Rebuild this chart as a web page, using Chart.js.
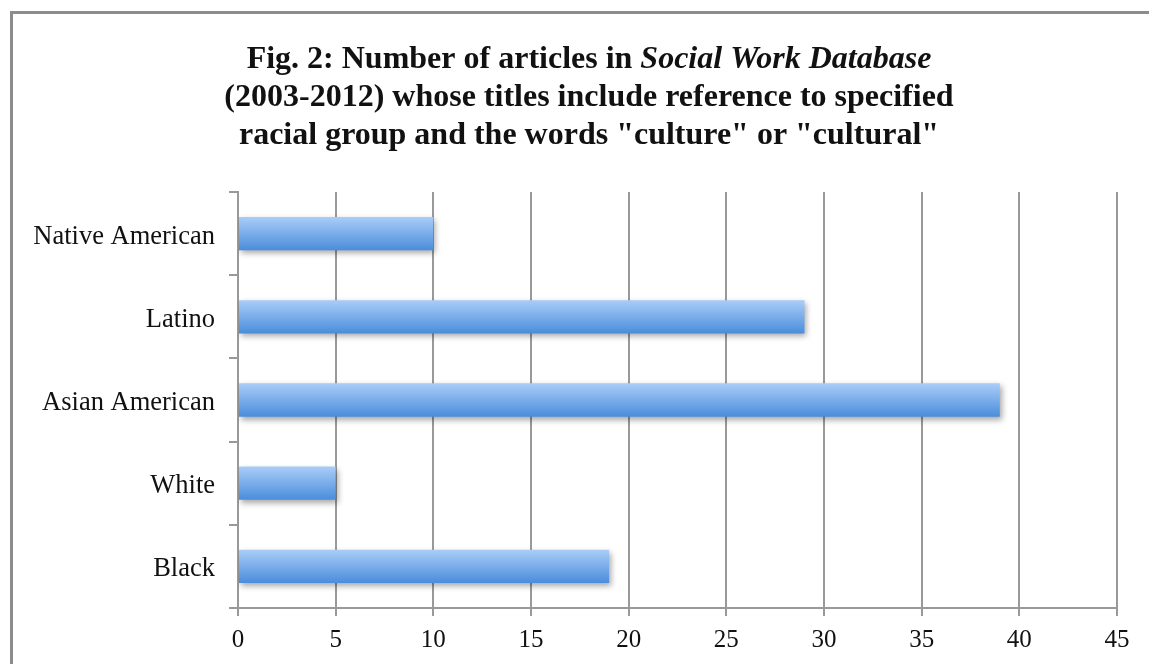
<!DOCTYPE html>
<html>
<head>
<meta charset="utf-8">
<script src="https://cdn.jsdelivr.net/npm/chart.js@4.4.0/dist/chart.umd.min.js"></script>
<style>
html,body{margin:0;padding:0;background:#fff;overflow:hidden;}
#wrap{position:absolute;left:0;top:0;width:1149px;height:664px;}
#frame{position:absolute;left:10px;top:11px;width:1200px;height:700px;border-top:3px solid #8c8c8c;border-left:3px solid #8c8c8c;pointer-events:none;}
</style>
</head>
<body>
<div id="wrap"><canvas id="c" width="1149" height="664"></canvas></div>
<div id="frame"></div>
<script>
const categories = ["Native American", "Latino", "Asian American", "White", "Black"];
const articleCounts = [10, 29, 39, 5, 19];
const xTicks = [0, 5, 10, 15, 20, 25, 30, 35, 40, 45];
const titleLines = [
  [["Fig. 2: Number of articles in ", "normal"], ["Social Work Database", "italic"]],
  [["(2003-2012) whose titles include reference to specified", "normal"]],
  [["racial group and the words \"culture\" or \"cultural\"", "normal"]]
];

const FONT = "'Liberation Serif', 'Times New Roman', serif";

const titlePlugin = {
  id: 'mixedTitle',
  afterDraw(chart) {
    const ctx = chart.ctx;
    ctx.save();
    ctx.fillStyle = '#111';
    ctx.textBaseline = 'alphabetic';
    const size = 32;
    const baselines = [68, 106, 144];
    const cx = 589;
    titleLines.forEach((line, i) => {
      let total = 0;
      line.forEach(([t, st]) => { ctx.font = st + ' bold ' + size + 'px ' + FONT; total += ctx.measureText(t).width; });
      let x = cx - total / 2;
      line.forEach(([t, st]) => {
        ctx.font = st + ' bold ' + size + 'px ' + FONT;
        ctx.textAlign = 'left';
        ctx.fillText(t, x, baselines[i]);
        x += ctx.measureText(t).width;
      });
    });
    ctx.restore();
  }
};

function barGradient(context) {
  const chart = context.chart;
  const el = chart.getDatasetMeta(0).data[context.dataIndex];
  if (!el || !isFinite(el.y) || !el.height) return '#6fa6e8';
  const top = el.y - el.height / 2, bot = el.y + el.height / 2;
  const g = chart.ctx.createLinearGradient(0, top, 0, bot);
  g.addColorStop(0, '#aacdf8');
  g.addColorStop(1, '#4a8ddb');
  return g;
}

const barStyle = {
  id: 'barStyle',
  beforeDatasetDraw(chart) {
    const ctx = chart.ctx;
    const meta = chart.getDatasetMeta(0);
    meta.data.forEach(el => {
      const top = el.y - el.height / 2, bot = el.y + el.height / 2;
      const g = ctx.createLinearGradient(0, top, 0, bot);
      g.addColorStop(0, '#aacdf8');
      g.addColorStop(1, '#4a8ddb');
      el.options = Object.assign({}, el.options, { backgroundColor: g });
    });
    ctx.save();
    ctx.shadowColor = 'rgba(0,0,0,0.35)';
    ctx.shadowBlur = 6;
    ctx.shadowOffsetX = 2;
    ctx.shadowOffsetY = 3;
  },
  afterDatasetDraw(chart) {
    chart.ctx.restore();
  }
};

new Chart(document.getElementById('c'), {
  type: 'bar',
  data: {
    labels: categories,
    datasets: [{
      data: articleCounts,
      backgroundColor: barGradient,
      borderWidth: 0,
      categoryPercentage: 0.8,
      barPercentage: 0.5
    }]
  },
  options: {
    indexAxis: 'y',
    responsive: false,
    animation: false,
    events: [],
    layout: { padding: { top: 192, right: 32, bottom: 0, left: 0 } },
    plugins: { legend: { display: false }, title: { display: false }, tooltip: { enabled: false } },
    scales: {
      x: {
        min: 0, max: 45,
        afterBuildTicks(scale) { scale.ticks = xTicks.map(v => ({ value: v })); },
        grid: { color: '#999', lineWidth: 2, tickLength: 8, drawOnChartArea: true },
        border: { color: '#999', width: 2 },
        ticks: { color: '#111', font: { family: FONT, size: 25 }, padding: 9, maxRotation: 0 }
      },
      y: {
        afterFit(scale) { scale.width = 238; },
        grid: { color: '#999', lineWidth: 2, tickLength: 9, drawOnChartArea: false, offset: true },
        border: { color: '#999', width: 2 },
        ticks: { color: '#111', font: { family: FONT, size: 26.5 }, padding: 14, labelOffset: 3 }
      }
    }
  },
  plugins: [barStyle, titlePlugin]
});
</script>
</body>
</html>
